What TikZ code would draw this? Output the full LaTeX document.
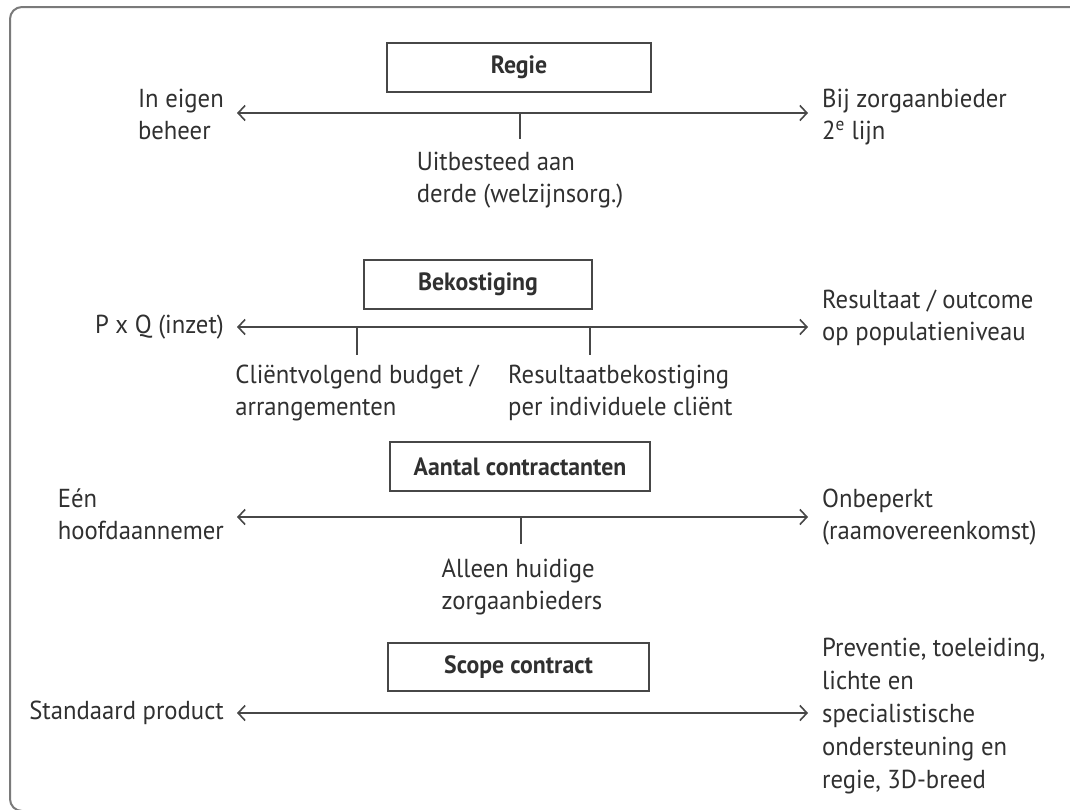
\documentclass[tikz,border=0pt]{standalone}
\usepackage{fontspec}
\setmainfont[FakeStretch=0.95]{PT Sans}
\usetikzlibrary{arrows.meta}
\definecolor{ink}{HTML}{303030}
\definecolor{linec}{HTML}{474747}
\definecolor{framec}{HTML}{7A7A7A}
\newcommand{\lns}[1]{\begin{tabular}{@{}l@{}}#1\end{tabular}}
\tikzset{
  txt/.style={inner sep=0pt, text=ink, font=\fontsize{26}{32}\selectfont},
  catbox/.style={draw=linec, line width=1.6pt, inner sep=0pt, text=ink,
    font=\fontsize{25}{32}\selectfont\bfseries},
  scale arrow/.style={draw=linec, line width=1.6pt,
    {Straight Barb[length=7pt,width=15pt,line width=1.6pt]}-{Straight Barb[length=7pt,width=15pt,line width=1.6pt]}},
  tick/.style={draw=linec, line width=1.6pt},
}
\begin{document}
\begin{tikzpicture}[x=1pt, y=-1pt]
\useasboundingbox (0,0) rectangle (1070,809);
\clip (0,0) rectangle (1070,809);
% frame
\draw[framec, line width=2pt, rounded corners=12pt] (10,7) rectangle (1110,811);

% ---------- Regie ----------
\node[catbox, minimum width=264pt, minimum height=49pt] (regie) at (519,67.5) {Regie};
\coordinate (a1l) at (237,113);
\coordinate (a1r) at (808,113);
\draw[scale arrow] (a1l) -- (a1r);
\coordinate (t1a) at (520,113);
\coordinate (t1b) at (520,139);
\draw[tick] (t1a) -- (t1b);
\node[txt, anchor=north east] (l1) at (224,84.6) {\lns{In eigen\\beheer}};
\node[txt, anchor=north west] (r1) at (822,84.6) {\lns{Bij zorgaanbieder\\2\textsuperscript{e} lijn}};
\node[txt, anchor=north] (m1) at (520,147.6) {\lns{Uitbesteed aan\\derde (welzijnsorg.)}};

% ---------- Bekostiging ----------
\node[catbox, minimum width=228pt, minimum height=49pt] (bek) at (478,284.5) {Bekostiging};
\coordinate (a2l) at (237,327);
\coordinate (a2r) at (808,327);
\draw[scale arrow] (a2l) -- (a2r);
\coordinate (t2a) at (357,327);
\coordinate (t2b) at (357,355);
\coordinate (t3a) at (590,327);
\coordinate (t3b) at (590,355);
\draw[tick] (t2a) -- (t2b);
\draw[tick] (t3a) -- (t3b);
\node[txt, anchor=east] (l2) at (224,327) {\lns{P x Q (inzet)}};
\node[txt, anchor=north west] (r2) at (822,285.6) {\lns{Resultaat / outcome\\op populatieniveau}};
\node[txt, anchor=north] (m2) at (357,360.6) {\lns{Cliëntvolgend budget /\\arrangementen}};
\node[txt, anchor=north west] (m3) at (508,360.6) {\lns{Resultaatbekostiging\\per individuele cliënt}};

% ---------- Aantal contractanten ----------
\node[catbox, minimum width=260pt, minimum height=49pt] (aant) at (520,466.5) {Aantal contractanten};
\coordinate (a3l) at (237,517);
\coordinate (a3r) at (808,517);
\draw[scale arrow] (a3l) -- (a3r);
\coordinate (t4a) at (521,517);
\coordinate (t4b) at (521,544);
\draw[tick] (t4a) -- (t4b);
\node[txt, anchor=north east] (l3) at (224,484.6) {\lns{Eén\\hoofdaannemer}};
\node[txt, anchor=north west] (r3) at (822,484.6) {\lns{Onbeperkt\\(raamovereenkomst)}};
\node[txt, anchor=north] (m4) at (522,554.6) {\lns{Alleen huidige\\zorgaanbieders}};

% ---------- Scope contract ----------
\node[catbox, minimum width=261pt, minimum height=48pt] (scope) at (518.5,667) {Scope contract};
\coordinate (a4l) at (237,713);
\coordinate (a4r) at (808,713);
\draw[scale arrow] (a4l) -- (a4r);
\node[txt, anchor=east] (l4) at (224,713) {\lns{Standaard product}};
\node[txt, anchor=west, font=\fontsize{26}{33}\selectfont] (r4) at (822,716) {\lns{Preventie, toeleiding,\\lichte en\\specialistische\\ondersteuning en\\regie, 3D-breed}};
\end{tikzpicture}
\end{document}
